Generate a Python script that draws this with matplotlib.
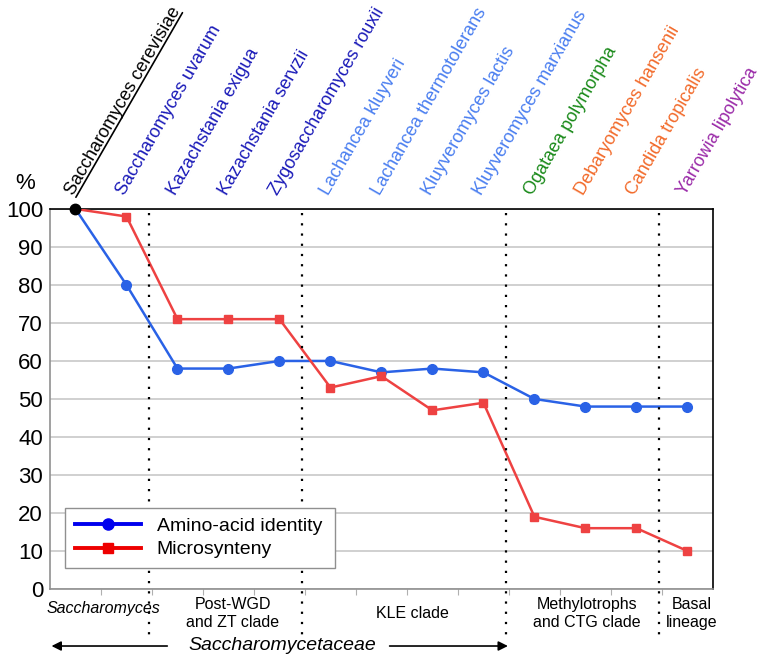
import matplotlib.pyplot as plt
import numpy as np
from matplotlib.lines import Line2D
from matplotlib.textpath import TextPath
from matplotlib.font_manager import FontProperties
from matplotlib.transforms import offset_copy

plt.rcParams['font.family'] = ['Liberation Sans', 'DejaVu Sans']

species = ['Saccharomyces cerevisiae', 'Saccharomyces uvarum', 'Kazachstania exigua',
           'Kazachstania servzii', 'Zygosaccharomyces rouxii', 'Lachancea kluyveri',
           'Lachancea thermotolerans', 'Kluyveromyces lactis', 'Kluyveromyces marxianus',
           'Ogataea polymorpha', 'Debaryomyces hansenii', 'Candida tropicalis',
           'Yarrowia lipolytica']
species_colors = ['black', '#1a1ab8', '#1a1ab8', '#1a1ab8', '#1a1ab8',
                  '#4a7ef0', '#4a7ef0', '#4a7ef0', '#4a7ef0',
                  '#1a8a1a', '#f26a2a', '#f26a2a', '#9a2aa8']
amino = [100, 80, 58, 58, 60, 60, 57, 58, 57, 50, 48, 48, 48]
synteny = [100, 98, 71, 71, 71, 53, 56, 47, 49, 19, 16, 16, 10]

clade_bounds = [1.45, 4.45, 8.45, 11.45]
clade_names = ['Saccharomyces', 'Post-WGD\nand ZT clade', 'KLE clade',
               'Methylotrophs\nand CTG clade', 'Basal\nlineage']
clade_x = [0.55, 3.08, 6.6, 10.03, 12.09]

x = np.arange(len(species))

fig = plt.figure(figsize=(7.62, 6.57), dpi=100)
ax = fig.add_axes([0.0656, 0.1035, 0.87, 0.5785])

ax.plot(x, amino, '-o', color='#2a62e6', lw=1.8, ms=7, markevery=list(range(1, 13)), zorder=3)
ax.plot(x, synteny, '-s', color='#ee4242', lw=1.8, ms=5.5, markevery=list(range(1, 13)), zorder=3)
ax.plot(x[0], amino[0], 'o', color='black', ms=7.5, zorder=5, clip_on=False)

ax.set_xlim(-0.5, 12.5)
ax.set_ylim(0, 100)
ax.set_yticks(range(0, 101, 10))
ax.yaxis.grid(True, color='#c8c8c8', lw=1.2)
ax.set_axisbelow(True)
ax.tick_params(axis='y', length=0, labelsize=16, pad=5)
ax.set_xticks(np.arange(0.5, 12.5, 1))
ax.set_xticklabels([])
ax.tick_params(axis='x', length=4, color='#b0b0b0', direction='out')
for s in ['left', 'bottom']:
    ax.spines[s].set_color('#909090')
    ax.spines[s].set_linewidth(1.2)
for s in ['top', 'right']:
    ax.spines[s].set_color('black')
    ax.spines[s].set_linewidth(1.2)

# clade separators
for b in clade_bounds:
    ax.plot([b, b], [0.99, -0.135], transform=ax.get_xaxis_transform(), color='black',
            lw=1.6, ls=(0, (1, 3.6)), clip_on=False, zorder=4)

# species names
xt = ax.get_xaxis_transform()
for i, (name, c) in enumerate(zip(species, species_colors)):
    ax.text(i - 0.03, 1.034, name, transform=xt, rotation=60, rotation_mode='anchor',
            ha='left', va='baseline', fontsize=13, color=c)

# underline the reference species
L = TextPath((0, 0), species[0], prop=FontProperties(family='Liberation Sans', size=13)).get_extents().width
start = offset_copy(xt, fig=fig, x=1.4, y=-0.9, units='points')
ax.annotate('', xy=(-0.03, 1.034), xycoords=start,
            xytext=(L * 0.5, L * np.sin(np.radians(60))), textcoords='offset points',
            arrowprops=dict(arrowstyle='-', lw=1.2, color='black', shrinkA=0, shrinkB=0))

ax.text(-0.98, 1.04, '%', transform=xt, fontsize=16, ha='center', va='bottom')

# clade labels
for cx, name in zip(clade_x, clade_names):
    style = 'italic' if name == 'Saccharomyces' else 'normal'
    yy = -0.05 if name == 'Saccharomyces' else -0.064
    ax.text(cx, yy, name, transform=xt, ha='center', va='center', fontsize=11.5,
            style=style, linespacing=1.3)

ax.text(4.06, -0.148, 'Saccharomycetaceae', transform=xt, ha='center', va='center',
        fontsize=14, style='italic')
ax.annotate('', xy=(-0.47, -0.15), xycoords=xt, xytext=(1.8, -0.15), textcoords=xt,
            arrowprops=dict(arrowstyle='-|>', lw=1.2, color='black', mutation_scale=14,
                            shrinkA=0, shrinkB=0))
ax.annotate('', xy=(8.48, -0.15), xycoords=xt, xytext=(6.16, -0.15), textcoords=xt,
            arrowprops=dict(arrowstyle='-|>', lw=1.2, color='black', mutation_scale=14,
                            shrinkA=0, shrinkB=0))

handles = [Line2D([], [], color='#0000ee', lw=2.8, marker='o', ms=8),
           Line2D([], [], color='#ee0000', lw=2.8, marker='s', ms=6.5)]
leg = ax.legend(handles, ['Amino-acid identity', 'Microsynteny'], loc='lower left',
                bbox_to_anchor=(0.023, 0.055, 0.407, 0.155), mode='expand', borderaxespad=0,
                fontsize=14, handlelength=3.4, handletextpad=0.8, fancybox=False,
                framealpha=1, edgecolor='#909090', borderpad=0.5, labelspacing=0.3)
leg.get_frame().set_linewidth(1.0)
leg.set_zorder(6)

fig.savefig('out.png', dpi=100)
